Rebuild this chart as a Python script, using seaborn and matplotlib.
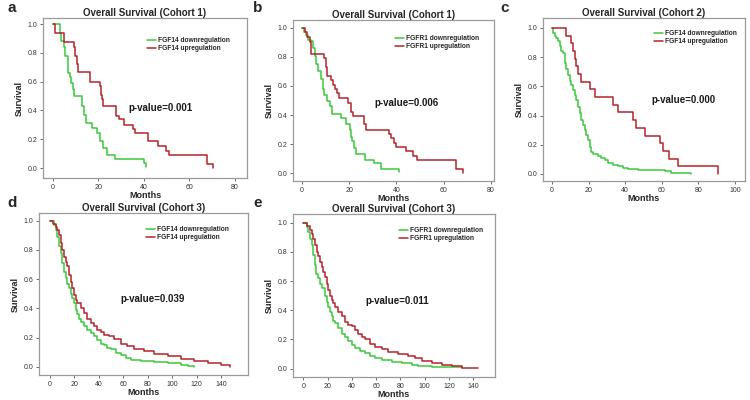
import matplotlib
matplotlib.use('Agg')
import matplotlib.pyplot as plt
import seaborn as sns
import pandas as pd

# Kaplan-Meier step points: months / survival
a_down_t = [0, 2.9, 3.7, 4.7, 5.4, 6.6, 7.3, 8.0, 8.8, 9.1, 12.7, 13.5, 14.6, 17.1, 19.3, 20.8, 22.2, 23.7, 27.3, 39.8, 40.8]
a_down_s = [1.0, 0.94, 0.88, 0.84, 0.78, 0.66, 0.63, 0.59, 0.55, 0.50, 0.43, 0.37, 0.31, 0.28, 0.245, 0.19, 0.14, 0.09, 0.06, 0.035, 0.01]
a_up_t = [0, 1.0, 4.7, 9.4, 9.8, 10.5, 11.0, 16.1, 20.5, 21.1, 21.5, 22.2, 27.8, 28.8, 31.0, 35.1, 36.1, 41.7, 46.1, 49.7, 51.2, 67.5, 70.2]
a_up_s = [1.0, 0.94, 0.875, 0.84, 0.78, 0.72, 0.67, 0.60, 0.57, 0.51, 0.48, 0.43, 0.36, 0.34, 0.30, 0.27, 0.24, 0.19, 0.15, 0.12, 0.09, 0.03, 0.0]

b_down_t = [0, 0.85, 1.8, 2.5, 4.0, 4.7, 5.4, 6.1, 6.8, 8.2, 8.9, 9.3, 10.7, 11.7, 12.7, 16.7, 18.8, 20.2, 20.6, 21.2, 22.0, 23.0, 26.6, 30.5, 33.4, 41.0]
b_down_s = [1.0, 0.97, 0.95, 0.92, 0.91, 0.86, 0.81, 0.75, 0.70, 0.65, 0.58, 0.54, 0.50, 0.46, 0.41, 0.38, 0.34, 0.30, 0.25, 0.22, 0.17, 0.13, 0.09, 0.07, 0.03, 0.01]
b_up_t = [0, 1.1, 2.3, 3.3, 4.0, 9.3, 10.0, 10.7, 12.2, 13.1, 13.9, 15.0, 15.7, 19.5, 20.6, 21.6, 26.3, 27.3, 36.9, 37.9, 39.0, 40.0, 44.0, 46.8, 48.5, 65.0, 68.3]
b_up_s = [1.0, 0.97, 0.94, 0.90, 0.82, 0.79, 0.73, 0.67, 0.64, 0.61, 0.58, 0.55, 0.52, 0.48, 0.42, 0.39, 0.34, 0.30, 0.27, 0.24, 0.21, 0.18, 0.15, 0.12, 0.09, 0.03, 0.0]

c_down_t = [0, 0.5, 1.5, 2.4, 3.3, 4.2, 5.1, 6.0, 6.9, 7.3, 7.8, 8.8, 9.7, 10.6, 11.5, 12.4, 13.3, 14.2, 15.1, 16.1,
            17.0, 17.9, 18.8, 19.7, 20.6, 21.5, 22.4, 25.2, 27.0, 28.8, 30.7, 33.4, 36.1, 38.9, 41.6, 47.0, 61.7, 65.3, 70.8, 75.8]
c_down_s = [1.0, 0.965, 0.945, 0.93, 0.91, 0.875, 0.84, 0.825, 0.81, 0.76, 0.72, 0.68, 0.64, 0.61, 0.575, 0.54, 0.51, 0.46, 0.415, 0.37,
            0.335, 0.30, 0.27, 0.23, 0.185, 0.15, 0.135, 0.125, 0.11, 0.094, 0.078, 0.064, 0.053, 0.041, 0.032, 0.025, 0.018, 0.009, 0.005, 0.003]
c_up_t = [0, 7.8, 10.2, 11.5, 12.4, 13.3, 14.2, 15.7, 20.6, 23.4, 33.1, 36.2, 44.4, 45.7, 50.8, 59.0, 60.5, 64.0, 68.7, 90.5]
c_up_s = [1.0, 0.947, 0.895, 0.842, 0.789, 0.737, 0.684, 0.632, 0.579, 0.526, 0.474, 0.421, 0.368, 0.316, 0.263, 0.211, 0.158, 0.105, 0.053, 0.0]

d_down_t = [0, 3.3, 4.6, 6.0, 7.4, 8.7, 10.1, 11.5, 12.8, 14.2, 15.6, 16.9, 18.3, 19.7, 21.0, 22.4, 23.8, 25.1, 27.9, 30.6,
            33.3, 36.1, 38.8, 41.5, 44.3, 47.0, 49.7, 53.8, 57.9, 62.0, 66.1, 74.3, 85.2, 96.2, 107.0, 112.6, 118.0]
d_down_s = [1.0, 0.97, 0.94, 0.89, 0.83, 0.78, 0.71, 0.65, 0.61, 0.57, 0.54, 0.50, 0.47, 0.44, 0.39, 0.36, 0.33, 0.31, 0.28, 0.255,
            0.23, 0.21, 0.185, 0.16, 0.15, 0.13, 0.12, 0.095, 0.08, 0.06, 0.05, 0.04, 0.035, 0.03, 0.016, 0.007, 0.0]
d_up_t = [0, 2.7, 4.6, 6.0, 7.4, 8.7, 10.1, 11.5, 12.8, 14.2, 15.6, 16.9, 18.3, 19.7, 21.0, 22.4, 25.1, 27.9, 30.6, 33.3,
          36.1, 38.8, 41.5, 44.3, 48.4, 52.5, 57.9, 63.4, 68.9, 77.0, 85.2, 96.2, 107.1, 118.0, 129.0, 140.0, 144.0, 147.0]
d_up_s = [1.0, 0.98, 0.96, 0.94, 0.90, 0.85, 0.80, 0.75, 0.72, 0.69, 0.63, 0.58, 0.54, 0.49, 0.46, 0.44, 0.40, 0.37, 0.33, 0.30,
          0.28, 0.255, 0.24, 0.22, 0.21, 0.19, 0.16, 0.14, 0.12, 0.107, 0.09, 0.073, 0.057, 0.039, 0.027, 0.016, 0.011, 0.0]

e_down_t = [0, 2.7, 4.1, 5.5, 6.9, 8.2, 9.6, 10.4, 11.8, 13.7, 15.7, 17.9, 19.2, 20.6, 22.0, 23.4, 24.7, 26.1, 28.8, 31.6,
            34.3, 37.1, 39.8, 42.6, 46.7, 50.8, 54.9, 59.1, 64.6, 72.8, 81.0, 89.3, 94.8, 105.8, 116.8, 130.5]
e_down_s = [1.0, 0.97, 0.94, 0.89, 0.85, 0.78, 0.71, 0.65, 0.62, 0.58, 0.55, 0.50, 0.46, 0.42, 0.39, 0.36, 0.33, 0.31, 0.28, 0.24,
            0.22, 0.19, 0.16, 0.14, 0.12, 0.105, 0.087, 0.07, 0.06, 0.048, 0.037, 0.025, 0.016, 0.014, 0.011, 0.007]
e_up_t = [0, 2.7, 5.5, 6.9, 8.2, 9.6, 11.0, 12.4, 13.7, 15.1, 16.5, 17.9, 19.2, 20.6, 22.0, 23.4, 24.7, 26.1, 28.8, 31.6,
          34.3, 37.1, 39.8, 42.6, 45.3, 48.1, 50.8, 54.9, 59.1, 64.6, 70.1, 78.3, 86.5, 92.0, 97.5, 105.8, 114.0, 122.3, 130.5, 144.2]
e_up_s = [1.0, 0.98, 0.95, 0.92, 0.89, 0.85, 0.80, 0.77, 0.73, 0.70, 0.66, 0.63, 0.58, 0.54, 0.50, 0.47, 0.45, 0.42, 0.39, 0.36,
          0.32, 0.30, 0.29, 0.265, 0.24, 0.22, 0.20, 0.17, 0.15, 0.135, 0.116, 0.10, 0.089, 0.071, 0.055, 0.037, 0.025, 0.016, 0.007, 0.002]

titles = ['Overall Survival (Cohort 1)', 'Overall Survival (Cohort 1)', 'Overall Survival (Cohort 2)',
          'Overall Survival (Cohort 3)', 'Overall Survival (Cohort 3)']
genes = ['FGF14', 'FGFR1', 'FGF14', 'FGF14', 'FGFR1']
pvalues = ['p-value=0.001', 'p-value=0.006', 'p-value=0.000', 'p-value=0.039', 'p-value=0.011']
tags = ['a', 'b', 'c', 'd', 'e']

sns.set_style('white')
plt.rcParams['font.family'] = ['Liberation Sans', 'DejaVu Sans']

GREEN = '#3cc83c'
RED = '#b3232b'
W, H = 750, 400

def frac(l, t, r, b):
    # pixel box -> figure fraction rect
    return [l / W, 1 - b / H, (r - l) / W, (b - t) / H]

layout = [
    dict(rect=frac(43, 18, 247, 178), xlim=(-4.4, 85.3), ylim=(-0.069, 1.042), xmax=80, ptxt=(33, 0.42), leg=(0.508, 0.882), tag=(7, 8)),
    dict(rect=frac(293, 20, 494, 181), xlim=(-3.8, 81.3), ylim=(-0.055, 1.055), xmax=80, ptxt=(30.5, 0.48), leg=(0.507, 0.907), tag=(253, 8)),
    dict(rect=frac(543, 18, 745, 181), xlim=(-4.9, 105.5), ylim=(-0.048, 1.068), xmax=100, ptxt=(54.6, 0.507), leg=(0.55, 0.927), tag=(500, 8)),
    dict(rect=frac(39, 213, 248, 375), xlim=(-9, 162), ylim=(-0.055, 1.053), xmax=140, ptxt=(58, 0.466), leg=(0.512, 0.92), tag=(7, 203)),
    dict(rect=frac(293, 214, 495, 377), xlim=(-8.5, 157.9), ylim=(-0.057, 1.06), xmax=140, ptxt=(51.4, 0.464), leg=(0.525, 0.921), tag=(253, 203)),
]

curves = [(a_down_t, a_down_s, a_up_t, a_up_s), (b_down_t, b_down_s, b_up_t, b_up_s),
          (c_down_t, c_down_s, c_up_t, c_up_s), (d_down_t, d_down_s, d_up_t, d_up_s),
          (e_down_t, e_down_s, e_up_t, e_up_s)]

fig = plt.figure(figsize=(W / 100, H / 100), dpi=100)

for i, lay in enumerate(layout):
    ax = fig.add_axes(lay['rect'])
    dt, ds, ut, us = curves[i]
    down_lab = f'{genes[i]} downregulation'
    up_lab = f'{genes[i]} upregulation'
    df = pd.concat([
        pd.DataFrame({'Months': dt, 'Survival': ds, 'group': down_lab}),
        pd.DataFrame({'Months': ut, 'Survival': us, 'group': up_lab}),
    ], ignore_index=True)
    sns.lineplot(data=df, x='Months', y='Survival', hue='group', hue_order=[down_lab, up_lab],
                 palette=[GREEN, RED], estimator=None, sort=False, drawstyle='steps-post',
                 lw=1.1, ax=ax)
    ax.set_xlim(*lay['xlim'])
    ax.set_ylim(*lay['ylim'])
    ax.set_xticks(range(0, lay['xmax'] + 1, 20))
    ax.set_yticks([0.0, 0.2, 0.4, 0.6, 0.8, 1.0])
    ax.set_yticklabels([f'{v:.1f}' for v in [0.0, 0.2, 0.4, 0.6, 0.8, 1.0]])
    ax.tick_params(axis='both', which='both', direction='out', length=2.5, width=0.6,
                   color='#555555', labelsize=5, labelcolor='#333333', pad=1.5,
                   bottom=True, left=True)
    for sp in ax.spines.values():
        sp.set_color('#9a9a9a')
        sp.set_linewidth(0.9)
    ax.set_title(titles[i], fontsize=7, fontweight='bold', pad=1.5)
    ax.set_xlabel('Months', fontsize=6.5, fontweight='bold', labelpad=0)
    ax.set_ylabel('Survival', fontsize=6.5, fontweight='bold', labelpad=3)
    ax.text(lay['ptxt'][0], lay['ptxt'][1], pvalues[i], fontsize=7, fontweight='bold',
            ha='left', va='center', color='#1a1a1a')
    ax.legend(loc='upper left', bbox_to_anchor=lay['leg'], frameon=False,
              prop={'size': 4.8, 'weight': 'bold'}, handlelength=1.4, handletextpad=0.3,
              labelspacing=0.15, borderpad=0, borderaxespad=0)
    fig.text(lay['tag'][0] / W, 1 - lay['tag'][1] / H, tags[i], fontsize=11, fontweight='bold',
             ha='left', va='center')

fig.savefig('out.png', dpi=100)
